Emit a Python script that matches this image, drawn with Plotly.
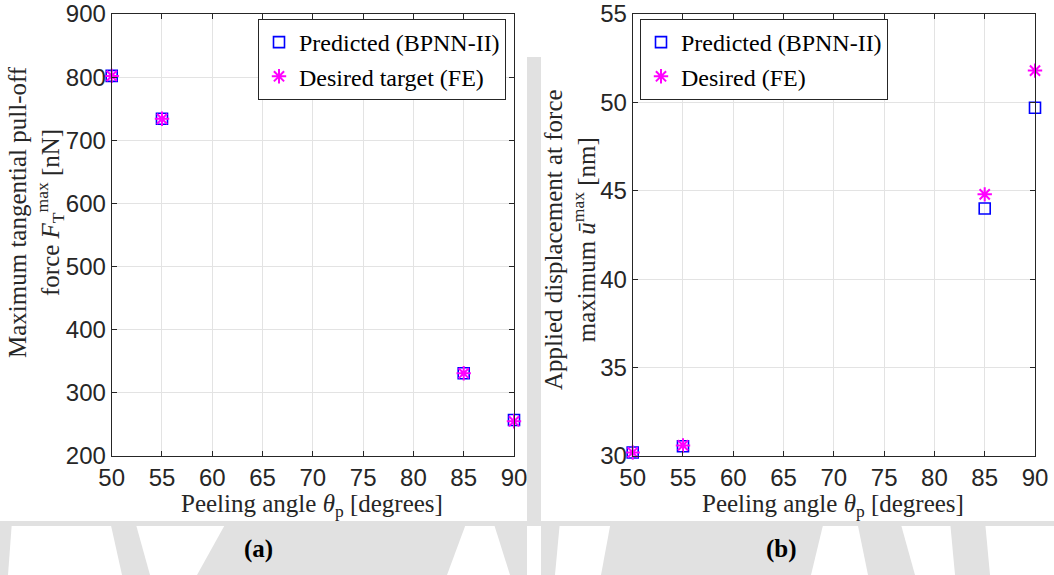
import plotly.graph_objects as go

# Peeling angles (degrees)
angles = [50, 55, 85, 90]

# (a) maximum tangential pull-off force [nN]
force_pred = [802, 734, 331, 257]
force_fe = [802, 734, 331, 255]

# (b) applied displacement at force maximum [nm]
disp_pred = [30.2, 30.55, 44.0, 49.7]
disp_fe = [30.2, 30.6, 44.8, 51.8]

x_ticks = [50, 55, 60, 65, 70, 75, 80, 85, 90]
force_ticks = [200, 300, 400, 500, 600, 700, 800, 900]
disp_ticks = [30, 35, 40, 45, 50, 55]

W, H = 1054, 575
SERIF = "Liberation Serif, Times New Roman, serif"
SANS = "Liberation Sans, Arial, sans-serif"
AXC = "#262626"
BLUE = "#0000ff"
MAGENTA = "#ff00ff"


def px(x):
    return x / W


def py(y):
    return 1 - y / H


fig = go.Figure()

sq = dict(symbol="square-open", size=11, color=BLUE, line=dict(width=1.6, color=BLUE))
star = dict(symbol="asterisk-open", size=12, color=MAGENTA, line=dict(width=2, color=MAGENTA))

fig.add_trace(go.Scatter(x=angles, y=force_pred, mode="markers", marker=sq,
                         name="Predicted (BPNN-II)", xaxis="x", yaxis="y",
                         legend="legend", cliponaxis=False))
fig.add_trace(go.Scatter(x=angles, y=force_fe, mode="markers", marker=star,
                         name="Desired target (FE)", xaxis="x", yaxis="y",
                         legend="legend", cliponaxis=False))
fig.add_trace(go.Scatter(x=angles, y=disp_pred, mode="markers", marker=sq,
                         name="Predicted (BPNN-II)", xaxis="x2", yaxis="y2",
                         legend="legend2", cliponaxis=False))
fig.add_trace(go.Scatter(x=angles, y=disp_fe, mode="markers", marker=star,
                         name="Desired (FE)", xaxis="x2", yaxis="y2",
                         legend="legend2", cliponaxis=False))

axis_common = dict(
    showline=True, linecolor=AXC, linewidth=1, mirror="ticks",
    ticks="inside", ticklen=5, tickcolor=AXC, tickwidth=1,
    showgrid=True, gridcolor="#e3e3e3", gridwidth=1,
    zeroline=False, automargin=False,
    tickfont=dict(family=SANS, size=24, color=AXC),
)

ydom = [py(456), py(14)]

legend_common = dict(
    yanchor="top", bgcolor="white", bordercolor=AXC, borderwidth=1,
    font=dict(family=SERIF, size=24, color="black"),
    tracegroupgap=0, itemwidth=30,
)

fig.update_layout(
    width=W, height=H,
    margin=dict(l=0, r=0, t=0, b=0),
    paper_bgcolor="white", plot_bgcolor="white",
    xaxis=dict(domain=[px(111.7), px(514)], range=[50, 90], tickvals=x_ticks,
               anchor="y", **axis_common),
    yaxis=dict(domain=ydom, range=[200, 900], tickvals=force_ticks,
               anchor="x", **axis_common),
    xaxis2=dict(domain=[px(632.7), px(1035)], range=[50, 90], tickvals=x_ticks,
                anchor="y2", **axis_common),
    yaxis2=dict(domain=ydom, range=[30, 55], tickvals=disp_ticks,
                anchor="x2", **axis_common),
    legend=dict(x=px(506), y=py(19), xanchor="right", **legend_common),
    legend2=dict(x=px(640), y=py(19), xanchor="left", **legend_common),
    showlegend=True,
)

# light grey background shapes around the two panels
GREY = "#e1e1e1"
polys = [
    [(527, 57), (541, 57), (541, 521), (527, 521)],
    [(0, 521), (1054, 521), (1054, 526), (0, 526)],
    [(227, 521), (467, 521), (447, 575), (197, 575)],
    [(493, 521), (527, 521), (527, 575), (510, 575)],
    [(110, 521), (135, 521), (150, 575), (122, 575)],
    [(0, 521), (12, 521), (8, 575), (0, 575)],
    [(541, 521), (560, 521), (555, 575), (541, 575)],
    [(611, 521), (824, 521), (811, 575), (601, 575)],
    [(857, 521), (900, 521), (915, 575), (868, 575)],
    [(950, 521), (985, 521), (990, 575), (955, 575)],
]
for pts in polys:
    path = "M " + " L ".join(f"{px(x)},{py(y)}" for x, y in pts) + " Z"
    fig.add_shape(type="path", path=path, xref="paper", yref="paper",
                  fillcolor=GREY, line=dict(width=0), layer="below")

title_font = dict(family=SERIF, size=25, color="#262626")
centred = dict(xref="paper", yref="paper", xanchor="center", yanchor="middle",
               showarrow=False)

fig.add_annotation(text="Peeling angle <i>θ</i><sub>p</sub> [degrees]",
                   x=px(312), y=py(505), font=title_font, **centred)
fig.add_annotation(text="Peeling angle <i>θ</i><sub>p</sub> [degrees]",
                   x=px(833), y=py(505), font=title_font, **centred)
fig.add_annotation(text="Maximum tangential pull-off<br>force <i>F</i><sub>T</sub><sup>max</sup> [nN]",
                   x=px(36), y=py(212), textangle=-90, font=title_font, **centred)
fig.add_annotation(text="Applied displacement at force<br>maximum <i>ū</i><sup>max</sup> [nm]",
                   x=px(570), y=py(240), textangle=-90, font=title_font, **centred)

fig.add_annotation(text="<b>(a)</b>", x=px(258), y=py(549),
                   font=dict(family=SERIF, size=25, color="black"), **centred)
fig.add_annotation(text="<b>(b)</b>", x=px(781), y=py(549),
                   font=dict(family=SERIF, size=25, color="black"), **centred)

fig.write_html("out.html")
